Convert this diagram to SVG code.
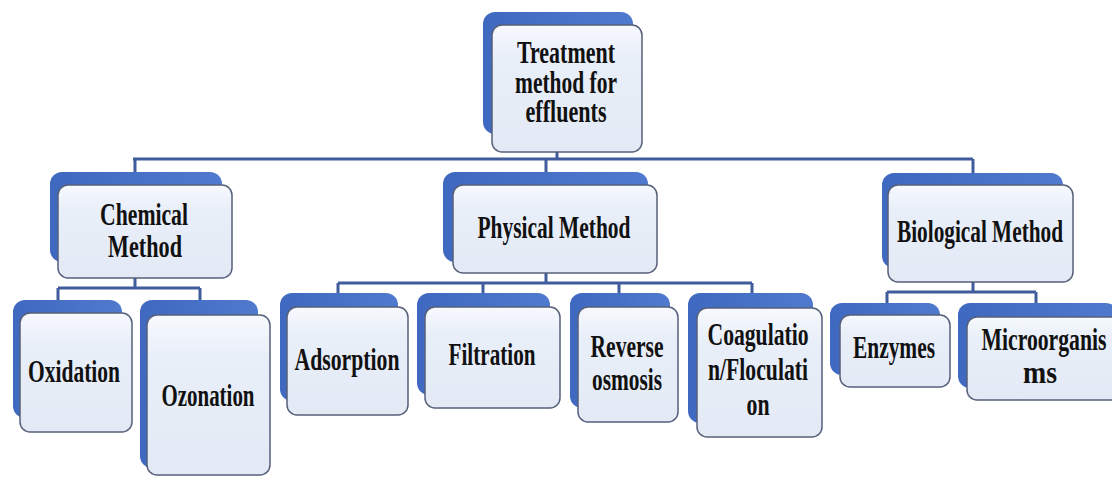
<svg xmlns="http://www.w3.org/2000/svg" width="1112" height="477" viewBox="0 0 1112 477">
<defs>
<linearGradient id="fg" x1="0" y1="0" x2="0" y2="1">
<stop offset="0" stop-color="#f7f9fd"/>
<stop offset="0.25" stop-color="#e9eff9"/>
<stop offset="1" stop-color="#e4eaf5"/>
</linearGradient>
<linearGradient id="bg" x1="0" y1="0" x2="1" y2="0">
<stop offset="0" stop-color="#3f68c0"/>
<stop offset="1" stop-color="#4f7acd"/>
</linearGradient>
<style>
.back{fill:url(#bg);}
.front{fill:url(#fg);stroke:#56607a;stroke-width:1.5;}
.t{font-family:"Liberation Serif","Times New Roman",serif;font-weight:bold;font-size:32px;fill:#111;text-anchor:middle;}
.c{fill:none;stroke:#405c9c;stroke-width:3;}
</style>
</defs>
<rect width="1112" height="477" fill="#ffffff"/>
<g id="connectors">
<path class="c" d="M557 152V159M133 159H973M135 159V172M546 159V172M973 159V173"/>
<path class="c" d="M135 278V288M58 288H200M58 288V300M200 288V300"/>
<path class="c" d="M546 273V283M338 283H752M338 283V294M483 283V294M619 283V294M752 283V294"/>
<path class="c" d="M973 282V292M887 292H1036M887 292V303M1036 292V303"/>
</g>
<g id="root">
<rect class="back" x="483" y="12" width="150" height="122" rx="12"/>
<rect class="front" x="492" y="25" width="150" height="127" rx="10"/>
<text class="t" x="566" y="63" textLength="98" lengthAdjust="spacingAndGlyphs">Treatment</text>
<text class="t" x="566" y="93" textLength="102" lengthAdjust="spacingAndGlyphs">method for</text>
<text class="t" x="566" y="122" textLength="81" lengthAdjust="spacingAndGlyphs">effluents</text>
</g>
<g id="chemical">
<rect class="back" x="50" y="172" width="172" height="90" rx="12"/>
<rect class="front" x="58" y="185" width="174" height="93" rx="10"/>
<text class="t" x="144" y="225" textLength="88" lengthAdjust="spacingAndGlyphs">Chemical</text>
<text class="t" x="145" y="257" textLength="74" lengthAdjust="spacingAndGlyphs">Method</text>
</g>
<g id="physical">
<rect class="back" x="443" y="172" width="205" height="90" rx="12"/>
<rect class="front" x="453" y="185" width="204" height="88" rx="10"/>
<text class="t" x="554" y="238" textLength="153" lengthAdjust="spacingAndGlyphs">Physical Method</text>
</g>
<g id="biological">
<rect class="back" x="882" y="173" width="181" height="95" rx="12"/>
<rect class="front" x="888" y="185" width="185" height="97" rx="10"/>
<text class="t" x="980" y="242" textLength="166" lengthAdjust="spacingAndGlyphs">Biological Method</text>
</g>
<g id="oxidation">
<rect class="back" x="13" y="300" width="109" height="118" rx="12"/>
<rect class="front" x="20" y="313" width="112" height="119" rx="10"/>
<text class="t" x="74" y="382" textLength="92" lengthAdjust="spacingAndGlyphs">Oxidation</text>
</g>
<g id="ozonation">
<rect class="back" x="140" y="300" width="118" height="168" rx="12"/>
<rect class="front" x="147" y="315" width="123" height="160" rx="10"/>
<text class="t" x="208" y="406" textLength="93" lengthAdjust="spacingAndGlyphs">Ozonation</text>
</g>
<g id="adsorption">
<rect class="back" x="280" y="293" width="118" height="108" rx="12"/>
<rect class="front" x="287" y="307" width="121" height="108" rx="10"/>
<text class="t" x="347" y="370" textLength="105" lengthAdjust="spacingAndGlyphs">Adsorption</text>
</g>
<g id="filtration">
<rect class="back" x="417" y="293" width="133" height="102" rx="12"/>
<rect class="front" x="425" y="307" width="135" height="101" rx="10"/>
<text class="t" x="492" y="365" textLength="87" lengthAdjust="spacingAndGlyphs">Filtration</text>
</g>
<g id="reverse-osmosis">
<rect class="back" x="570" y="293" width="100" height="115" rx="12"/>
<rect class="front" x="578" y="307" width="100" height="115" rx="10"/>
<text class="t" x="627" y="357" textLength="73" lengthAdjust="spacingAndGlyphs">Reverse</text>
<text class="t" x="627" y="390" textLength="70" lengthAdjust="spacingAndGlyphs">osmosis</text>
</g>
<g id="coagulation">
<rect class="back" x="688" y="293" width="125" height="130" rx="12"/>
<rect class="front" x="697" y="308" width="125" height="129" rx="10"/>
<text class="t" x="758" y="345" textLength="101" lengthAdjust="spacingAndGlyphs">Coagulatio</text>
<text class="t" x="758" y="380" textLength="100" lengthAdjust="spacingAndGlyphs">n/Floculati</text>
<text class="t" x="758" y="415" textLength="23" lengthAdjust="spacingAndGlyphs">on</text>
</g>
<g id="enzymes">
<rect class="back" x="830" y="303" width="110" height="72" rx="12"/>
<rect class="front" x="840" y="315" width="110" height="72" rx="10"/>
<text class="t" x="894" y="358" textLength="82" lengthAdjust="spacingAndGlyphs">Enzymes</text>
</g>
<g id="microorganisms">
<rect class="back" x="958" y="303" width="160" height="85" rx="12"/>
<rect class="front" x="967" y="317" width="155" height="83" rx="10"/>
<text class="t" x="1044" y="350" textLength="125" lengthAdjust="spacingAndGlyphs">Microorganis</text>
<text class="t" x="1040" y="383" textLength="34" lengthAdjust="spacingAndGlyphs">ms</text>
</g>
</svg>
